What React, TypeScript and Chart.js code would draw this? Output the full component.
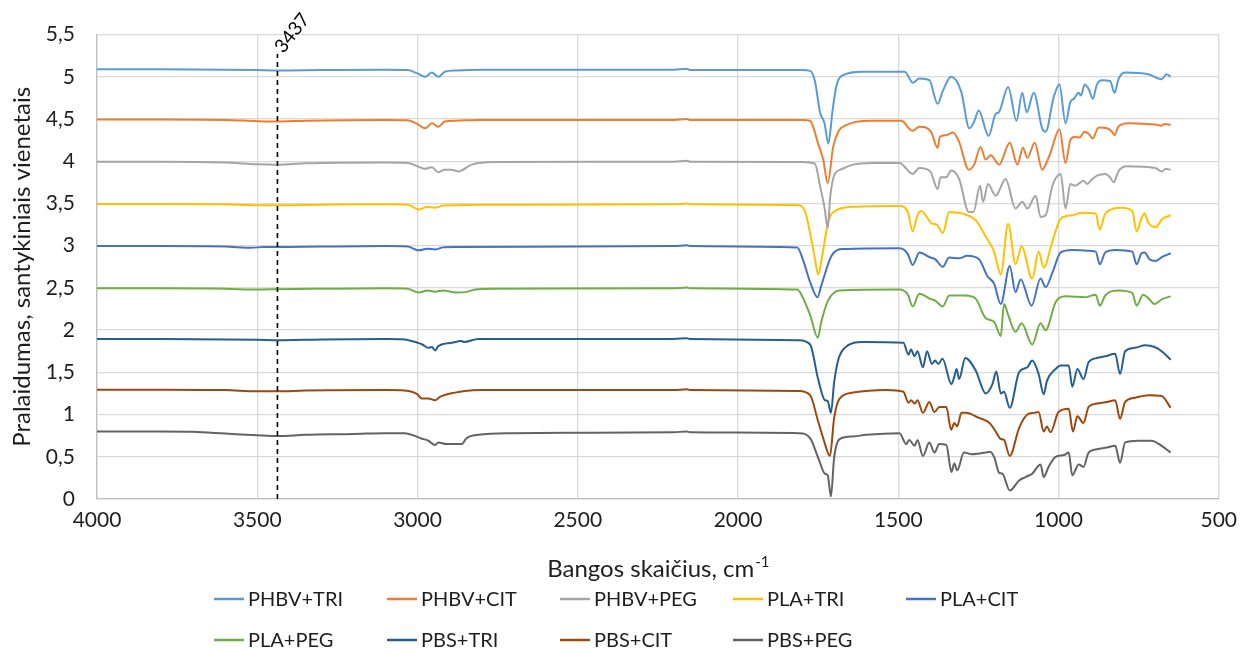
import React, { useEffect, useRef } from "react";
import { Chart, registerables } from "chart.js";

Chart.register(...registerables);

// ---------- DATA ----------
const seriesNames = [
  "PHBV+TRI",
  "PHBV+CIT",
  "PHBV+PEG",
  "PLA+TRI",
  "PLA+CIT",
  "PLA+PEG",
  "PBS+TRI",
  "PBS+CIT",
  "PBS+PEG",
];

const seriesColors = [
  "#5B9BD5",
  "#ED7D31",
  "#A5A5A5",
  "#FFC000",
  "#4472C4",
  "#70AD47",
  "#255E91",
  "#9E480E",
  "#636363",
];

const phbvTri: [number, number][] = [
  [4000, 5.09], [3800, 5.09], [3600, 5.085], [3500, 5.08], [3437, 5.075], [3300, 5.08], [3100, 5.085],
  [3030, 5.08], [3000, 5.04], [2976, 5.0], [2955, 5.05], [2935, 5.0], [2915, 5.06], [2880, 5.075],
  [2800, 5.085], [2500, 5.085], [2200, 5.085], [2160, 5.095], [2150, 5.08], [2000, 5.08], [1800, 5.08],
  [1775, 5.07], [1760, 4.95], [1744, 4.58], [1730, 4.45], [1718, 4.21], [1705, 4.6], [1693, 4.89],
  [1677, 5.01], [1610, 5.06], [1480, 5.06], [1454, 4.93], [1434, 4.98], [1403, 4.96], [1377, 4.68],
  [1361, 4.83], [1335, 5.0], [1304, 4.83], [1278, 4.39], [1263, 4.47], [1249, 4.6], [1218, 4.3],
  [1196, 4.56], [1186, 4.58], [1157, 4.88], [1131, 4.48], [1113, 4.81], [1099, 4.58], [1077, 4.81],
  [1051, 4.39], [1040, 4.35], [1015, 4.76], [997, 4.91], [978, 4.45], [963, 4.7], [952, 4.74],
  [937, 4.81], [930, 4.78], [918, 4.91], [905, 4.85], [893, 4.74], [880, 4.91], [864, 4.96],
  [839, 4.95], [825, 4.81], [813, 4.97], [792, 5.05], [720, 5.03], [678, 4.97], [663, 5.03], [650, 5.0],
];

const phbvCit: [number, number][] = [
  [4000, 4.495], [3800, 4.495], [3600, 4.49], [3500, 4.475], [3437, 4.47], [3350, 4.48], [3100, 4.49],
  [3030, 4.485], [3000, 4.44], [2976, 4.39], [2955, 4.45], [2935, 4.41], [2915, 4.47], [2880, 4.48],
  [2800, 4.49], [2200, 4.49], [2160, 4.5], [2150, 4.49], [1800, 4.49], [1775, 4.48], [1750, 4.21],
  [1734, 4.02], [1720, 3.74], [1703, 4.17], [1687, 4.35], [1661, 4.43], [1589, 4.48], [1491, 4.48],
  [1455, 4.36], [1434, 4.41], [1398, 4.35], [1377, 4.16], [1370, 4.29], [1350, 4.31], [1329, 4.34],
  [1310, 4.23], [1280, 3.9], [1263, 3.96], [1243, 4.17], [1227, 4.02], [1211, 4.07], [1185, 3.96],
  [1152, 4.22], [1128, 3.96], [1111, 4.16], [1097, 4.04], [1074, 4.22], [1051, 3.9], [1040, 3.96],
  [1025, 4.1], [997, 4.38], [978, 3.98], [963, 4.25], [948, 4.29], [935, 4.28], [918, 4.35],
  [905, 4.32], [893, 4.27], [875, 4.4], [849, 4.39], [833, 4.35], [825, 4.31], [813, 4.41],
  [782, 4.45], [720, 4.44], [689, 4.43], [680, 4.42], [670, 4.44], [650, 4.43],
];

const phbvPeg: [number, number][] = [
  [4000, 3.995], [3800, 3.995], [3600, 3.985], [3500, 3.965], [3437, 3.96], [3350, 3.975], [3100, 3.985],
  [3030, 3.98], [3000, 3.94], [2976, 3.91], [2955, 3.93], [2935, 3.87], [2915, 3.9], [2895, 3.9],
  [2873, 3.88], [2831, 3.96], [2760, 3.99], [2200, 3.995], [2160, 4.005], [2150, 3.995], [1800, 3.99],
  [1760, 3.97], [1744, 3.71], [1730, 3.45], [1720, 3.21], [1712, 3.59], [1698, 3.85], [1680, 3.9],
  [1641, 3.96], [1579, 3.98], [1496, 3.98], [1455, 3.85], [1434, 3.92], [1400, 3.88], [1377, 3.67],
  [1368, 3.81], [1350, 3.81], [1335, 3.89], [1310, 3.79], [1280, 3.4], [1265, 3.4], [1245, 3.71],
  [1235, 3.52], [1220, 3.73], [1196, 3.59], [1165, 3.79], [1134, 3.44], [1113, 3.52], [1097, 3.44],
  [1071, 3.59], [1056, 3.34], [1040, 3.36], [1019, 3.71], [993, 3.85], [978, 3.44], [963, 3.73],
  [948, 3.71], [922, 3.77], [910, 3.73], [897, 3.78], [880, 3.83], [855, 3.85], [839, 3.81],
  [828, 3.75], [813, 3.88], [787, 3.94], [698, 3.92], [678, 3.88], [665, 3.91], [650, 3.9],
];

const plaTri: [number, number][] = [
  [4000, 3.495], [3800, 3.495], [3600, 3.49], [3500, 3.48], [3437, 3.48], [3300, 3.485], [3100, 3.49],
  [3030, 3.485], [3010, 3.45], [2995, 3.43], [2970, 3.46], [2945, 3.45], [2920, 3.475], [2880, 3.48],
  [2800, 3.485], [2200, 3.49], [2160, 3.5], [2150, 3.49], [1810, 3.48], [1790, 3.4], [1775, 3.15],
  [1760, 2.85], [1750, 2.66], [1734, 2.95], [1719, 3.28], [1693, 3.42], [1641, 3.46], [1496, 3.47],
  [1470, 3.4], [1455, 3.17], [1440, 3.36], [1429, 3.41], [1393, 3.26], [1380, 3.25], [1361, 3.15],
  [1341, 3.4], [1299, 3.38], [1258, 3.3], [1227, 3.11], [1201, 2.93], [1180, 2.66], [1157, 3.26],
  [1134, 2.78], [1115, 2.99], [1082, 2.61], [1062, 2.93], [1046, 2.74], [1019, 3.05], [993, 3.32],
  [957, 3.36], [926, 3.39], [884, 3.38], [871, 3.19], [854, 3.38], [802, 3.45], [770, 3.41],
  [756, 3.17], [741, 3.32], [731, 3.38], [721, 3.28], [697, 3.22], [675, 3.32], [650, 3.36],
];

const plaCit: [number, number][] = [
  [4000, 2.995], [3800, 2.995], [3600, 2.99], [3520, 2.975], [3480, 2.985], [3437, 2.985], [3300, 2.99],
  [3100, 2.995], [3030, 2.99], [3010, 2.96], [2995, 2.945], [2970, 2.965], [2945, 2.955], [2920, 2.98],
  [2880, 2.985], [2200, 2.995], [2160, 3.005], [2150, 2.995], [1815, 2.98], [1796, 2.82], [1775, 2.57],
  [1752, 2.39], [1740, 2.53], [1708, 2.88], [1672, 2.96], [1496, 2.97], [1470, 2.9], [1455, 2.77],
  [1434, 2.92], [1400, 2.86], [1385, 2.84], [1361, 2.75], [1341, 2.86], [1310, 2.85], [1285, 2.88],
  [1248, 2.84], [1222, 2.64], [1201, 2.55], [1180, 2.31], [1152, 2.76], [1134, 2.45], [1118, 2.6],
  [1084, 2.29], [1056, 2.61], [1040, 2.51], [1019, 2.68], [993, 2.92], [957, 2.95], [910, 2.94],
  [884, 2.93], [871, 2.78], [854, 2.92], [823, 2.95], [770, 2.93], [756, 2.78], [741, 2.91],
  [731, 2.92], [716, 2.84], [697, 2.82], [675, 2.87], [650, 2.91],
];

const plaPeg: [number, number][] = [
  [4000, 2.495], [3800, 2.495], [3600, 2.49], [3500, 2.48], [3437, 2.485], [3300, 2.49], [3100, 2.495],
  [3030, 2.49], [3010, 2.46], [2995, 2.445], [2970, 2.47], [2945, 2.455], [2920, 2.47], [2880, 2.445],
  [2850, 2.45], [2820, 2.48], [2760, 2.49], [2200, 2.495], [2160, 2.505], [2150, 2.495], [1815, 2.48],
  [1801, 2.41], [1775, 2.18], [1751, 1.91], [1740, 2.1], [1719, 2.35], [1683, 2.47], [1496, 2.48],
  [1470, 2.42], [1455, 2.28], [1434, 2.43], [1400, 2.37], [1385, 2.35], [1361, 2.28], [1341, 2.41],
  [1290, 2.41], [1258, 2.37], [1227, 2.14], [1201, 2.1], [1180, 1.93], [1170, 2.31], [1157, 2.18],
  [1134, 1.98], [1115, 2.08], [1082, 1.83], [1056, 2.08], [1040, 2.0], [1009, 2.33], [978, 2.4],
  [915, 2.39], [884, 2.42], [871, 2.29], [854, 2.41], [813, 2.47], [770, 2.44], [756, 2.29],
  [736, 2.42], [720, 2.38], [701, 2.31], [675, 2.37], [650, 2.4],
];

const pbsTri: [number, number][] = [
  [4000, 1.895], [3800, 1.895], [3600, 1.89], [3500, 1.885], [3437, 1.88], [3300, 1.89], [3100, 1.895],
  [3040, 1.89], [3000, 1.85], [2985, 1.83], [2966, 1.79], [2955, 1.8], [2945, 1.76], [2935, 1.81],
  [2893, 1.85], [2862, 1.87], [2855, 1.86], [2810, 1.895], [2200, 1.895], [2160, 1.905], [2150, 1.895],
  [1810, 1.88], [1775, 1.83], [1750, 1.42], [1729, 1.17], [1720, 1.16], [1710, 1.02], [1700, 1.38],
  [1687, 1.65], [1667, 1.79], [1610, 1.86], [1484, 1.85], [1468, 1.71], [1460, 1.77], [1449, 1.69],
  [1440, 1.75], [1423, 1.56], [1410, 1.75], [1395, 1.6], [1385, 1.64], [1375, 1.6], [1362, 1.66],
  [1334, 1.36], [1325, 1.45], [1318, 1.54], [1310, 1.42], [1291, 1.67], [1258, 1.52], [1227, 1.25],
  [1206, 1.36], [1194, 1.51], [1180, 1.25], [1170, 1.27], [1152, 1.08], [1123, 1.5], [1097, 1.56],
  [1082, 1.64], [1062, 1.48], [1046, 1.24], [1036, 1.4], [1009, 1.54], [993, 1.58], [968, 1.58],
  [957, 1.33], [941, 1.54], [922, 1.42], [906, 1.62], [880, 1.67], [854, 1.69], [823, 1.72],
  [808, 1.48], [792, 1.75], [761, 1.79], [730, 1.82], [700, 1.8], [678, 1.75], [650, 1.65],
];

const pbsCit: [number, number][] = [
  [4000, 1.295], [3800, 1.295], [3600, 1.29], [3500, 1.275], [3437, 1.275], [3350, 1.285], [3100, 1.29],
  [3040, 1.285], [3000, 1.24], [2987, 1.19], [2966, 1.19], [2945, 1.17], [2930, 1.21], [2883, 1.26],
  [2852, 1.28], [2800, 1.29], [2200, 1.29], [2160, 1.3], [2150, 1.29], [1810, 1.28], [1775, 1.23],
  [1750, 0.92], [1734, 0.72], [1713, 0.51], [1700, 0.96], [1683, 1.19], [1641, 1.26], [1538, 1.29],
  [1484, 1.27], [1468, 1.14], [1460, 1.17], [1449, 1.13], [1440, 1.17], [1423, 1.02], [1403, 1.15],
  [1387, 1.03], [1372, 1.09], [1350, 1.09], [1335, 0.82], [1325, 0.9], [1316, 0.86], [1303, 1.02],
  [1289, 1.02], [1248, 0.96], [1215, 0.9], [1196, 0.8], [1180, 0.71], [1170, 0.7], [1152, 0.51],
  [1123, 0.84], [1097, 1.0], [1077, 1.02], [1062, 1.03], [1046, 0.8], [1036, 0.86], [1025, 0.79],
  [1000, 1.03], [968, 1.07], [955, 0.8], [941, 0.98], [922, 0.9], [906, 1.09], [880, 1.13],
  [849, 1.15], [823, 1.17], [808, 0.95], [792, 1.15], [761, 1.2], [720, 1.23], [678, 1.22], [650, 1.08],
];

const pbsPeg: [number, number][] = [
  [4000, 0.8], [3800, 0.8], [3700, 0.795], [3600, 0.775], [3500, 0.755], [3437, 0.745], [3350, 0.76],
  [3200, 0.77], [3100, 0.78], [3040, 0.78], [3010, 0.75], [2990, 0.72], [2966, 0.69], [2945, 0.64],
  [2935, 0.67], [2910, 0.65], [2862, 0.65], [2847, 0.72], [2810, 0.76], [2700, 0.78], [2500, 0.785],
  [2200, 0.79], [2160, 0.8], [2150, 0.79], [1810, 0.78], [1775, 0.72], [1750, 0.49], [1729, 0.3],
  [1720, 0.28], [1710, 0.03], [1700, 0.49], [1683, 0.71], [1641, 0.74], [1600, 0.76], [1496, 0.78],
  [1475, 0.65], [1466, 0.7], [1449, 0.63], [1440, 0.7], [1423, 0.51], [1403, 0.67], [1387, 0.55],
  [1372, 0.65], [1350, 0.64], [1334, 0.32], [1325, 0.42], [1316, 0.34], [1295, 0.55], [1269, 0.53],
  [1248, 0.54], [1227, 0.55], [1213, 0.56], [1200, 0.49], [1185, 0.31], [1175, 0.3], [1152, 0.1],
  [1123, 0.22], [1103, 0.26], [1082, 0.3], [1056, 0.41], [1046, 0.26], [1031, 0.38], [1009, 0.5],
  [983, 0.52], [968, 0.55], [957, 0.28], [937, 0.41], [922, 0.38], [906, 0.55], [880, 0.59],
  [849, 0.61], [823, 0.63], [808, 0.43], [792, 0.67], [751, 0.69], [710, 0.69], [678, 0.63], [650, 0.55],
];

const seriesData = [phbvTri, phbvCit, phbvPeg, plaTri, plaCit, plaPeg, pbsTri, pbsCit, pbsPeg];

const xTicks = [4000, 3500, 3000, 2500, 2000, 1500, 1000, 500];
const yTicks = [0, 0.5, 1, 1.5, 2, 2.5, 3, 3.5, 4, 4.5, 5, 5.5];
const markerWavenumber = 3437;
const markerTop = 5.27;
const markerLabel = "3437";

const xTitle = "Bangos skaičius, cm";
const xTitleSup = "-1";
const yTitle = "Pralaidumas, santykiniais vienetais";

// ---------- STYLE ----------
const FONT = "Lato, 'Open Sans', sans-serif";
const TEXT = "#1e1e1e";
const W = 1246;
const H = 653;

const markerPlugin = {
  id: "marker",
  afterDatasetsDraw(chart: any) {
    const { ctx, scales } = chart;
    const x = scales.x.getPixelForValue(markerWavenumber);
    const y0 = scales.y.getPixelForValue(0);
    const y1 = scales.y.getPixelForValue(markerTop);
    ctx.save();
    ctx.strokeStyle = "#000000";
    ctx.lineWidth = 1.6;
    ctx.setLineDash([5, 4]);
    ctx.beginPath();
    ctx.moveTo(x, y0);
    ctx.lineTo(x, y1);
    ctx.stroke();
    ctx.setLineDash([]);
    ctx.translate(x, y1 - 2);
    ctx.rotate(-Math.PI * 52 / 180);
    ctx.font = `19px ${FONT}`;
    ctx.fillStyle = "#000000";
    ctx.textAlign = "left";
    ctx.textBaseline = "middle";
    ctx.fillText(markerLabel, 2, 0);
    ctx.restore();
  },
};

const textPlugin = {
  id: "texts",
  afterDraw(chart: any) {
    const { ctx, chartArea } = chart;
    ctx.save();
    // Y title
    ctx.fillStyle = TEXT;
    ctx.font = `24px ${FONT}`;
    ctx.textAlign = "center";
    ctx.textBaseline = "middle";
    ctx.translate(22, (chartArea.top + chartArea.bottom) / 2);
    ctx.rotate(-Math.PI / 2);
    ctx.fillText(yTitle, 0, 0);
    ctx.restore();

    // X title with superscript
    ctx.save();
    ctx.fillStyle = TEXT;
    ctx.textBaseline = "alphabetic";
    ctx.textAlign = "left";
    ctx.font = `24px ${FONT}`;
    const w1 = ctx.measureText(xTitle).width;
    ctx.font = `15px ${FONT}`;
    const w2 = ctx.measureText(xTitleSup).width;
    const cx = (chartArea.left + chartArea.right) / 2;
    const x0 = cx - (w1 + w2) / 2;
    ctx.font = `24px ${FONT}`;
    ctx.fillText(xTitle, x0, 577);
    ctx.font = `15px ${FONT}`;
    ctx.fillText(xTitleSup, x0 + w1 + 1, 567);
    ctx.restore();

    // Legend
    ctx.save();
    ctx.font = `20px ${FONT}`;
    ctx.textBaseline = "middle";
    ctx.textAlign = "left";
    chart.data.datasets.forEach((ds: any, i: number) => {
      const row = Math.floor(i / 5);
      const col = i % 5;
      const lx = 214 + col * 173;
      const ly = row === 0 ? 599 : 640;
      ctx.strokeStyle = ds.borderColor;
      ctx.lineWidth = 2.5;
      ctx.beginPath();
      ctx.moveTo(lx, ly);
      ctx.lineTo(lx + 30, ly);
      ctx.stroke();
      ctx.fillStyle = TEXT;
      ctx.fillText(ds.label, lx + 34, ly + 1);
    });
    ctx.restore();
  },
};

export default function App() {
  const canvasRef = useRef<HTMLCanvasElement | null>(null);

  useEffect(() => {
    document.body.style.margin = "0";
    const canvas = canvasRef.current;
    if (!canvas) return;
    const chart = new Chart(canvas, {
      type: "line",
      data: {
        datasets: seriesNames.map((name, i) => ({
          label: name,
          data: seriesData[i].map(([x, y]) => ({ x, y })),
          borderColor: seriesColors[i],
          backgroundColor: seriesColors[i],
          borderWidth: 2,
          pointRadius: 0,
          fill: false,
          cubicInterpolationMode: "monotone" as const,
        })),
      },
      options: {
        responsive: false,
        animation: false,
        devicePixelRatio: 1,
        layout: { padding: { top: 27, right: 21, left: 0, bottom: 0 } },
        plugins: {
          legend: { display: false },
          tooltip: { enabled: false },
          title: { display: false },
        },
        scales: {
          x: {
            type: "linear",
            reverse: true,
            min: 500,
            max: 4000,
            afterBuildTicks: (scale: any) => {
              scale.ticks = xTicks.map((v) => ({ value: v }));
            },
            afterFit: (scale: any) => {
              scale.height = H - 499;
            },
            grid: { color: "#d9d9d9", lineWidth: 1.3, drawTicks: false },
            border: { color: "#bfbfbf", width: 1.3 },
            ticks: {
              padding: 9,
              color: TEXT,
              font: { family: FONT, size: 21 },
              maxRotation: 0,
              callback: (v: any) => String(v),
            },
          },
          y: {
            type: "linear",
            min: 0,
            max: 5.5,
            afterBuildTicks: (scale: any) => {
              scale.ticks = yTicks.map((v) => ({ value: v }));
            },
            afterFit: (scale: any) => {
              scale.width = 97;
            },
            grid: { color: "#d9d9d9", lineWidth: 1.3, drawTicks: false },
            border: { color: "#bfbfbf", width: 1.3 },
            ticks: {
              padding: 22,
              color: TEXT,
              font: { family: FONT, size: 21 },
              callback: (v: any) => String(v).replace(".", ","),
            },
          },
        },
      },
      plugins: [markerPlugin, textPlugin],
    });
    return () => chart.destroy();
  }, []);

  return (
    <div style={{ width: W, height: H, background: "#ffffff" }}>
      <canvas ref={canvasRef} width={W} height={H} style={{ display: "block" }} />
    </div>
  );
}
